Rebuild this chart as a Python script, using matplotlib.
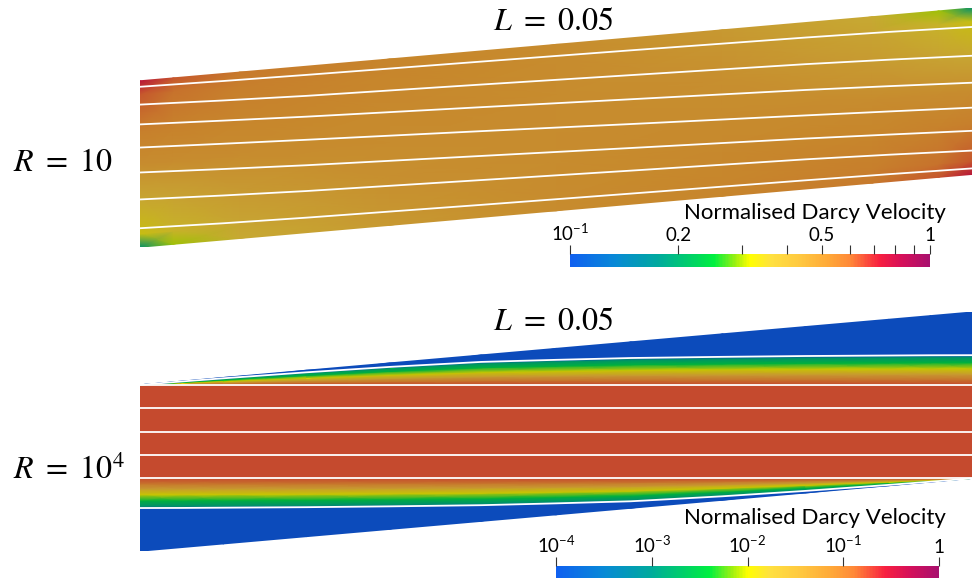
import numpy as np
import matplotlib
matplotlib.use("Agg")
import matplotlib.pyplot as plt
from matplotlib.colors import LinearSegmentedColormap, ListedColormap, LogNorm
from matplotlib.cm import ScalarMappable
from matplotlib.ticker import NullLocator

plt.rcParams['font.family'] = ['Lato', 'DejaVu Sans']
plt.rcParams['mathtext.fontset'] = 'custom'
plt.rcParams['mathtext.rm'] = 'Lato'
plt.rcParams['mathtext.it'] = 'Lato:italic'

# geometry of the tilted channel (length 1)
height = 0.2
tilt = 0.0875

# colour map stops
cmap_pos = [0.0, 0.12, 0.24, 0.36, 0.40, 0.46, 0.50, 0.56, 0.64, 0.72, 0.78, 0.86, 0.92, 1.0]
cmap_col = ['#1060F0', '#0888D8', '#00A8A0', '#00DC58', '#00F040', '#A0F010', '#FFFF00',
            '#FFE040', '#FFC840', '#FFA838', '#FF8838', '#F82040', '#D81058', '#A8106E']
shade = 0.78   # lighting in the rendered fields

# ---- R = 10 : log10 of normalised velocity on an (s, t) grid ----
top_s = [0.0, 0.04, 0.12, 0.3, 0.5, 0.7, 0.88, 0.96, 1.0]
top_t = [0.0, 0.08, 0.3, 0.5, 0.7, 0.92, 1.0]
top_logv = [
    [-0.72, -0.52, -0.42, -0.35, -0.31, -0.29, -0.26, -0.20, -0.12],
    [-0.48, -0.45, -0.40, -0.34, -0.31, -0.29, -0.27, -0.24, -0.20],
    [-0.40, -0.38, -0.35, -0.32, -0.31, -0.30, -0.29, -0.28, -0.27],
    [-0.31, -0.31, -0.31, -0.31, -0.31, -0.31, -0.31, -0.31, -0.31],
    [-0.27, -0.28, -0.29, -0.30, -0.31, -0.32, -0.35, -0.38, -0.40],
    [-0.20, -0.24, -0.27, -0.29, -0.31, -0.34, -0.40, -0.45, -0.48],
    [-0.12, -0.20, -0.26, -0.29, -0.31, -0.35, -0.42, -0.52, -0.72],
]
# streamlines, fraction across the channel at stations along it
top_line_s = [0.0, 0.1, 0.2, 0.41, 0.59, 0.8, 0.9, 1.0]
top_lines = [
    [0.114, 0.100, 0.090, 0.075, 0.064, 0.052, 0.045, 0.036],
    [0.287, 0.267, 0.250, 0.224, 0.202, 0.178, 0.162, 0.143],
    [0.449, 0.426, 0.405, 0.369, 0.338, 0.303, 0.283, 0.262],
    [0.599, 0.578, 0.558, 0.518, 0.482, 0.442, 0.422, 0.401],
    [0.738, 0.717, 0.697, 0.662, 0.631, 0.595, 0.574, 0.551],
    [0.857, 0.838, 0.822, 0.798, 0.776, 0.750, 0.733, 0.713],
    [0.964, 0.955, 0.948, 0.936, 0.925, 0.910, 0.900, 0.886],
]

# ---- R = 10^4 ----
bot_s = [0.0, 0.05, 0.1, 0.2, 0.3, 0.41, 0.5, 0.59, 0.7, 0.8, 0.9, 0.95, 1.0]
outer_top = [0.2, 0.2040, 0.2078, 0.2150, 0.2215, 0.2275, 0.2300, 0.2322, 0.2336, 0.2346, 0.2352, 0.2355, 0.2356]
outer_bot = [0.0519, 0.0520, 0.0523, 0.0529, 0.0539, 0.0553, 0.0575, 0.0600, 0.0660, 0.0725, 0.0797, 0.0835, 0.0875]
core_lines = [0.0875, 0.1156, 0.1438, 0.1719, 0.2]
outside_logv = -4.0
# profile across the shear layer, from outer streamline (0) to core (1)
layer_frac = [0.0, 0.06, 0.25, 0.45, 0.65, 0.82, 1.0]
layer_logv = [-4.0, -2.9, -2.5, -2.0, -1.4, -1.0, -0.76]

cbar1_ticks = [0.1, 0.2, 0.3, 0.4, 0.5, 0.6, 0.7, 0.8, 0.9, 1.0]
cbar1_labels = ['$10^{-1}$', '0.2', '', '', '0.5', '', '', '', '', '1']
cbar2_ticks = [1e-4, 1e-3, 1e-2, 1e-1, 1.0]
cbar2_labels = ['$10^{-4}$', '$10^{-3}$', '$10^{-2}$', '$10^{-1}$', '1']

cmap = LinearSegmentedColormap.from_list('darcy', list(zip(cmap_pos, cmap_col)))
rgb = cmap(np.linspace(0, 1, 256))
rgb[:, :3] *= shade
field_cmap = ListedColormap(rgb)

W, H = 975, 581
fig = plt.figure(figsize=(W / 100, H / 100), dpi=100)


def fpos(x0, y0, x1, y1):
    return [x0 / W, 1 - y1 / H, (x1 - x0) / W, (y1 - y0) / H]


def panel(y_top_px):
    ax = fig.add_axes(fpos(140, y_top_px, 972, y_top_px + 832 * (height + tilt)))
    ax.set_xlim(0, 1)
    ax.set_ylim(0, height + tilt)
    ax.axis('off')
    return ax


# top panel
ax1 = panel(8)
S, T = np.meshgrid(top_s, top_t)
X = S
Y = tilt * S + height * T
ax1.pcolormesh(X, Y, 10.0 ** np.array(top_logv), shading='gouraud', cmap=field_cmap,
               norm=LogNorm(0.1, 1), antialiased=True)
ls = np.array(top_line_s)
for ln in top_lines:
    ax1.plot(ls, tilt * ls + height * np.array(ln), color='white', lw=1.3)

# bottom panel
ax2 = panel(312)
s = np.array(bot_s)
ot = np.array(outer_top)
ob = np.array(outer_bot)
fr = np.array(layer_frac)
rows_y = [tilt * s, ob]
rows_v = [outside_logv, outside_logv]
for f, v in zip(fr[1:], layer_logv[1:]):
    rows_y.append(ob + f * (core_lines[0] - ob))
    rows_v.append(v)
for f, v in zip(fr[::-1], layer_logv[::-1]):
    rows_y.append(core_lines[-1] + (1 - f) * (ot - core_lines[-1]))
    rows_v.append(v)
rows_y += [tilt * s + height]
rows_v += [outside_logv]
Yb = np.array(rows_y)
Xb = np.tile(s, (len(rows_y), 1))
Cb = np.repeat(10.0 ** np.array(rows_v)[:, None], len(s), axis=1)
ax2.pcolormesh(Xb, Yb, Cb, shading='gouraud', cmap=field_cmap, norm=LogNorm(1e-4, 1),
               antialiased=True)
ax2.plot(s, ot, color='white', lw=1.3)
ax2.plot(s, ob, color='white', lw=1.3)
for yc in core_lines:
    ax2.plot([0, 1], [yc, yc], color='white', lw=1.3)


def colorbar(box, norm, ticks, labels, title, title_y):
    cax = fig.add_axes(fpos(*box))
    cb = fig.colorbar(ScalarMappable(norm=norm, cmap=cmap), cax=cax, orientation='horizontal')
    cb.outline.set_visible(False)
    cax.xaxis.set_ticks_position('top')
    cax.set_xticks(ticks, labels)
    cax.xaxis.set_minor_locator(NullLocator())
    cax.tick_params(axis='x', direction='out', length=6.5, width=0.8, color='#333333',
                    labelsize=13.5, pad=1, labelcolor='black')
    fig.text(946 / W, 1 - title_y / H, title, ha='right', va='baseline', fontsize=16)


colorbar((570, 254, 930, 267), LogNorm(0.1, 1), cbar1_ticks, cbar1_labels,
         'Normalised Darcy Velocity', 219)
colorbar((556, 566, 939, 578), LogNorm(1e-4, 1), cbar2_ticks, cbar2_labels,
         'Normalised Darcy Velocity', 524)

lab = dict(fontsize=23, math_fontfamily='stix', va='center')
fig.text(13 / W, 1 - 162 / H, r'$R\ =\ 10$', ha='left', **lab)
fig.text(13 / W, 1 - 470 / H, r'$R\ =\ 10^4$', ha='left', **lab)
fig.text(493 / W, 1 - 21 / H, r'$L\ =\ 0.05$', ha='left', **lab)
fig.text(493 / W, 1 - 321 / H, r'$L\ =\ 0.05$', ha='left', **lab)

fig.savefig('out.png', dpi=100)
